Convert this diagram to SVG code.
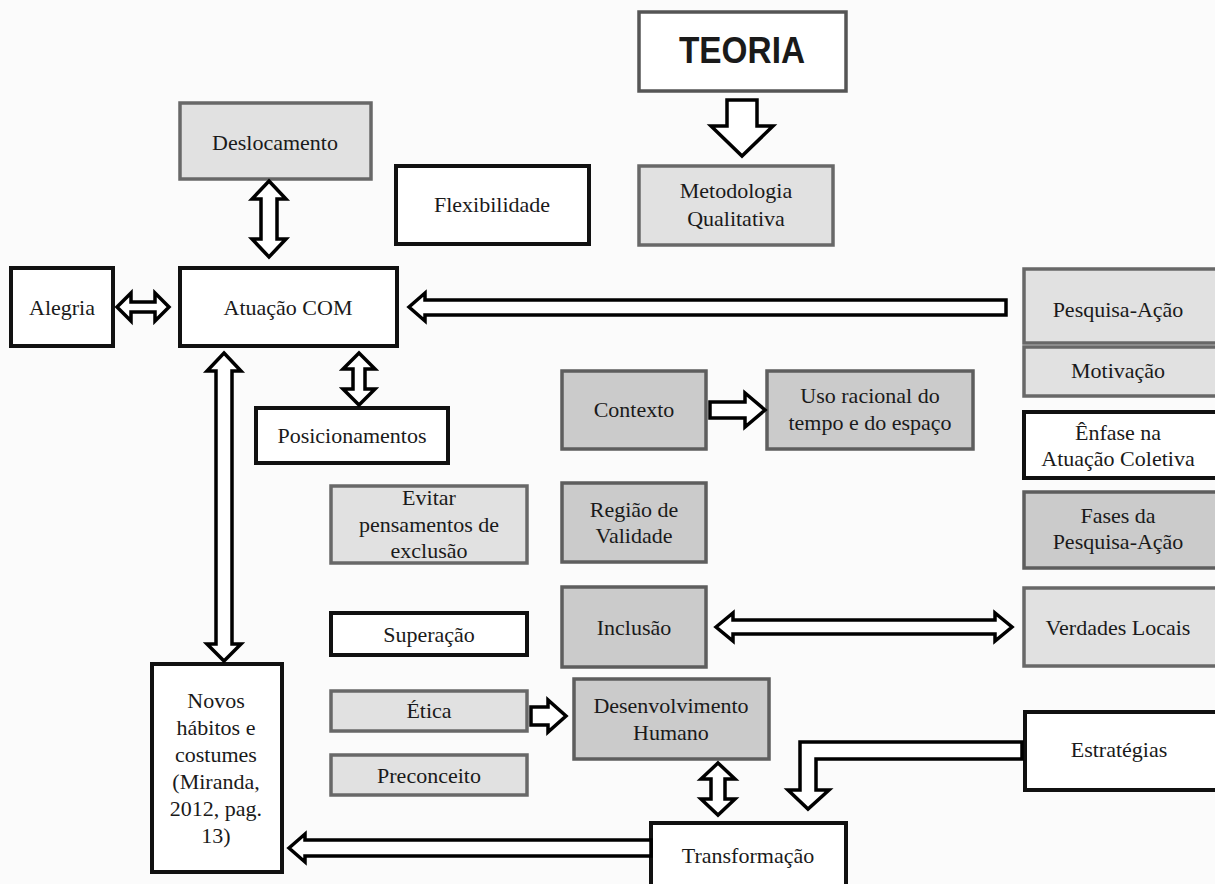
<svg xmlns="http://www.w3.org/2000/svg" width="1215" height="884" viewBox="0 0 1215 884">
<style>
.bg{fill:#fbfbfb}
.w{fill:#ffffff;stroke:#111;stroke-width:4}
.l{fill:#e1e1e1;stroke:#686868;stroke-width:3.5}
.d{fill:#cbcbcb;stroke:#5e5e5e;stroke-width:3.5}
.t{fill:#ffffff;stroke:#555;stroke-width:3.5}
text{font-family:"Liberation Serif","Times New Roman",serif;font-size:22px;fill:#1a1a1a;text-anchor:middle}
.big{font-family:"Liberation Sans",Arial,sans-serif;font-weight:bold;font-size:36px}
.ar{fill:#ffffff;stroke:#000;stroke-width:3.5;stroke-linejoin:miter}
</style>
<rect class="bg" x="0" y="0" width="1215" height="884"/>

<g id="teoria"><rect class="t" x="639" y="12" width="207" height="79"/><text class="big" x="742" y="63" textLength="126" lengthAdjust="spacingAndGlyphs">TEORIA</text></g>
<g id="metodologia"><rect class="l" x="639" y="166" width="194" height="79"/><text x="736" y="198">Metodologia</text><text x="736" y="226">Qualitativa</text></g>
<g id="deslocamento"><rect class="l" x="180" y="103" width="191" height="76"/><text x="275" y="150">Deslocamento</text></g>
<g id="flexibilidade"><rect class="w" x="396" y="166" width="193" height="78"/><text x="492" y="212">Flexibilidade</text></g>
<g id="alegria"><rect class="w" x="11" y="268" width="102" height="78"/><text x="62" y="315">Alegria</text></g>
<g id="atuacao"><rect class="w" x="180" y="268" width="217" height="78"/><text x="288" y="315">Atuação COM</text></g>
<g id="posicionamentos"><rect class="w" x="256" y="408" width="192" height="55"/><text x="352" y="443">Posicionamentos</text></g>
<g id="pesquisa"><rect class="l" x="1024" y="269" width="193" height="74"/><text x="1118" y="317">Pesquisa-Ação</text></g>
<g id="motivacao"><rect class="l" x="1024" y="347" width="193" height="49"/><text x="1118" y="378">Motivação</text></g>
<g id="enfase"><rect class="w" x="1024" y="412" width="193" height="66"/><text x="1118" y="440">Ênfase na</text><text x="1118" y="466">Atuação Coletiva</text></g>
<g id="fases"><rect class="d" x="1024" y="492" width="193" height="76"/><text x="1118" y="523">Fases da</text><text x="1118" y="549">Pesquisa-Ação</text></g>
<g id="verdades"><rect class="l" x="1024" y="588" width="193" height="78"/><text x="1118" y="635">Verdades Locais</text></g>
<g id="estrategias"><rect class="w" x="1025" y="712" width="192" height="78"/><text x="1119" y="757">Estratégias</text></g>
<g id="contexto"><rect class="d" x="562" y="371" width="144" height="78"/><text x="634" y="417">Contexto</text></g>
<g id="uso"><rect class="d" x="767" y="371" width="206" height="78"/><text x="870" y="403">Uso racional do</text><text x="870" y="430">tempo e do espaço</text></g>
<g id="evitar"><rect class="l" x="331" y="486" width="196" height="77"/><text x="429" y="505">Evitar</text><text x="429" y="532">pensamentos de</text><text x="429" y="558">exclusão</text></g>
<g id="regiao"><rect class="d" x="562" y="483" width="144" height="79"/><text x="634" y="517">Região de</text><text x="634" y="543">Validade</text></g>
<g id="superacao"><rect class="w" x="331" y="613" width="196" height="42"/><text x="429" y="642">Superação</text></g>
<g id="inclusao"><rect class="d" x="562" y="587" width="144" height="80"/><text x="634" y="635">Inclusão</text></g>
<g id="etica"><rect class="l" x="331" y="691" width="196" height="40"/><text x="429" y="718">Ética</text></g>
<g id="desenvolvimento"><rect class="d" x="574" y="679" width="195" height="80"/><text x="671" y="713">Desenvolvimento</text><text x="671" y="740">Humano</text></g>
<g id="preconceito"><rect class="l" x="331" y="755" width="196" height="40"/><text x="429" y="783">Preconceito</text></g>
<g id="novos"><rect class="w" x="152" y="664" width="130" height="208"/><text x="216" y="708">Novos</text><text x="216" y="735">hábitos e</text><text x="216" y="762">costumes</text><text x="216" y="789">(Miranda,</text><text x="216" y="816">2012, pag.</text><text x="216" y="843">13)</text></g>
<g id="transformacao"><rect class="w" x="651" y="823" width="195" height="70"/><text x="748" y="863">Transformação</text></g>

<g id="connectors">
<polygon class="ar" points="727,100 757,100 757,126 773,126 742,156 711,126 727,126"/>
<polygon class="ar" points="269,181 286,199 277,199 277,239 286,239 269,257 252,239 261,239 261,199 252,199"/>
<polygon class="ar" points="117,307 131,293 131,302 155,302 155,293 169,307 155,321 155,312 131,312 131,321"/>
<polygon class="ar" points="409,307 425,293 425,300 1006,300 1006,315 425,315 425,321"/>
<polygon class="ar" points="359,353 375,369 365,369 365,389 375,389 359,405 343,389 353,389 353,369 343,369"/>
<polygon class="ar" points="224,353 241,371 232,371 232,644 241,644 224,661 207,644 216,644 216,371 207,371"/>
<polygon class="ar" points="710,402 745,402 745,393 765,410 745,427 745,418 710,418"/>
<polygon class="ar" points="716,627 733,613 733,620 995,620 995,613 1012,627 995,641 995,634 733,634 733,641"/>
<polygon class="ar" points="531,707 548,707 548,700 566,716 548,732 548,725 531,725"/>
<polygon class="ar" points="718,763 735,779 725,779 725,799 735,799 718,815 701,799 711,799 711,779 701,779"/>
<polygon class="ar" points="289,848 305,834 305,840 651,840 651,856 305,856 305,862"/>
<polygon class="ar" points="1022,742 800,742 800,790 788,790 808,809 829,790 816,790 816,759 1022,759"/>
</g>
</svg>
